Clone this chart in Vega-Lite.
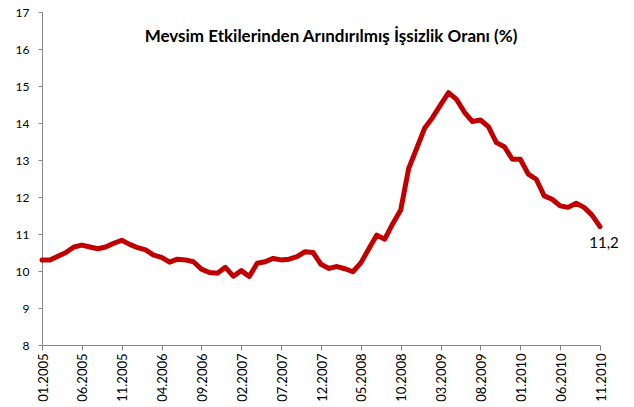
{
  "$schema": "https://vega.github.io/schema/vega-lite/v6.json",
  "width": 558,
  "height": 333,
  "autosize": "none",
  "padding": {"left": 42, "top": 12, "right": 34, "bottom": 62},
  "background": "white",
  "config": {
    "view": {"stroke": null},
    "locale": {"number": {"decimal": ",", "thousands": ".", "grouping": [3], "currency": ["", " TL"]}},
    "font": "Lato"
  },
  "title": {
    "text": "Mevsim Etkilerinden Arındırılmış İşsizlik Oranı (%)",
    "font": "Lato",
    "fontSize": 17,
    "fontWeight": "bold",
    "color": "#000000",
    "anchor": "middle",
    "offset": -40,
    "dx": 10
  },
  "data": {
    "values": [
      {"month": "01.2005", "value": 10.3},
      {"month": "02.2005", "value": 10.3},
      {"month": "03.2005", "value": 10.4},
      {"month": "04.2005", "value": 10.5},
      {"month": "05.2005", "value": 10.65},
      {"month": "06.2005", "value": 10.7},
      {"month": "07.2005", "value": 10.65},
      {"month": "08.2005", "value": 10.6},
      {"month": "09.2005", "value": 10.65},
      {"month": "10.2005", "value": 10.75},
      {"month": "11.2005", "value": 10.83},
      {"month": "12.2005", "value": 10.72},
      {"month": "01.2006", "value": 10.63},
      {"month": "02.2006", "value": 10.57},
      {"month": "03.2006", "value": 10.43},
      {"month": "04.2006", "value": 10.37},
      {"month": "05.2006", "value": 10.24},
      {"month": "06.2006", "value": 10.32},
      {"month": "07.2006", "value": 10.3},
      {"month": "08.2006", "value": 10.25},
      {"month": "09.2006", "value": 10.05},
      {"month": "10.2006", "value": 9.96},
      {"month": "11.2006", "value": 9.94},
      {"month": "12.2006", "value": 10.1},
      {"month": "01.2007", "value": 9.86},
      {"month": "02.2007", "value": 10.01},
      {"month": "03.2007", "value": 9.85},
      {"month": "04.2007", "value": 10.21},
      {"month": "05.2007", "value": 10.25},
      {"month": "06.2007", "value": 10.34},
      {"month": "07.2007", "value": 10.3},
      {"month": "08.2007", "value": 10.32},
      {"month": "09.2007", "value": 10.39},
      {"month": "10.2007", "value": 10.52},
      {"month": "11.2007", "value": 10.5},
      {"month": "12.2007", "value": 10.18},
      {"month": "01.2008", "value": 10.07},
      {"month": "02.2008", "value": 10.12},
      {"month": "03.2008", "value": 10.06},
      {"month": "04.2008", "value": 9.98},
      {"month": "05.2008", "value": 10.22},
      {"month": "06.2008", "value": 10.6},
      {"month": "07.2008", "value": 10.97},
      {"month": "08.2008", "value": 10.86},
      {"month": "09.2008", "value": 11.28},
      {"month": "10.2008", "value": 11.65},
      {"month": "11.2008", "value": 12.77},
      {"month": "12.2008", "value": 13.31},
      {"month": "01.2009", "value": 13.86},
      {"month": "02.2009", "value": 14.15},
      {"month": "03.2009", "value": 14.49},
      {"month": "04.2009", "value": 14.82},
      {"month": "05.2009", "value": 14.64},
      {"month": "06.2009", "value": 14.29},
      {"month": "07.2009", "value": 14.04},
      {"month": "08.2009", "value": 14.08},
      {"month": "09.2009", "value": 13.9},
      {"month": "10.2009", "value": 13.47},
      {"month": "11.2009", "value": 13.36},
      {"month": "12.2009", "value": 13.02},
      {"month": "01.2010", "value": 13.02},
      {"month": "02.2010", "value": 12.62},
      {"month": "03.2010", "value": 12.48},
      {"month": "04.2010", "value": 12.03},
      {"month": "05.2010", "value": 11.94},
      {"month": "06.2010", "value": 11.76},
      {"month": "07.2010", "value": 11.72},
      {"month": "08.2010", "value": 11.83},
      {"month": "09.2010", "value": 11.72},
      {"month": "10.2010", "value": 11.51},
      {"month": "11.2010", "value": 11.2}
    ]
  },
  "encoding": {
    "x": {
      "field": "month",
      "type": "ordinal",
      "sort": null,
      "scale": {"type": "point", "padding": 0},
      "axis": {
        "title": null,
        "values": ["01.2005","06.2005","11.2005","04.2006","09.2006","02.2007","07.2007","12.2007","05.2008","10.2008","03.2009","08.2009","01.2010","06.2010","11.2010"],
        "labelAngle": -90,
        "labelFont": "Lato",
        "labelFontSize": 13,
        "labelColor": "#000000",
        "labelPadding": 3,
        "labelOffset": 1,
        "tickSize": 5,
        "tickColor": "#868686",
        "domainColor": "#868686",
        "grid": false
      }
    },
    "y": {
      "field": "value",
      "type": "quantitative",
      "scale": {"domain": [8, 17], "nice": false, "zero": false},
      "axis": {
        "title": null,
        "values": [8, 9, 10, 11, 12, 13, 14, 15, 16, 17],
        "grid": false,
        "labelFont": "Lato",
        "labelFontSize": 12,
        "labelColor": "#000000",
        "labelPadding": 9,
        "tickSize": 4,
        "tickColor": "#868686",
        "domainColor": "#868686"
      }
    }
  },
  "layer": [
    {
      "mark": {"type": "line", "color": "#C00000", "strokeWidth": 5, "strokeJoin": "round", "strokeCap": "round"}
    },
    {
      "transform": [{"filter": "datum.month == '11.2010'"}],
      "mark": {"type": "text", "font": "Lato", "fontSize": 15, "color": "#000000", "align": "center", "baseline": "middle", "dx": 4, "dy": 16},
      "encoding": {
        "text": {"field": "value", "type": "quantitative", "format": ".1f"}
      }
    }
  ]
}
